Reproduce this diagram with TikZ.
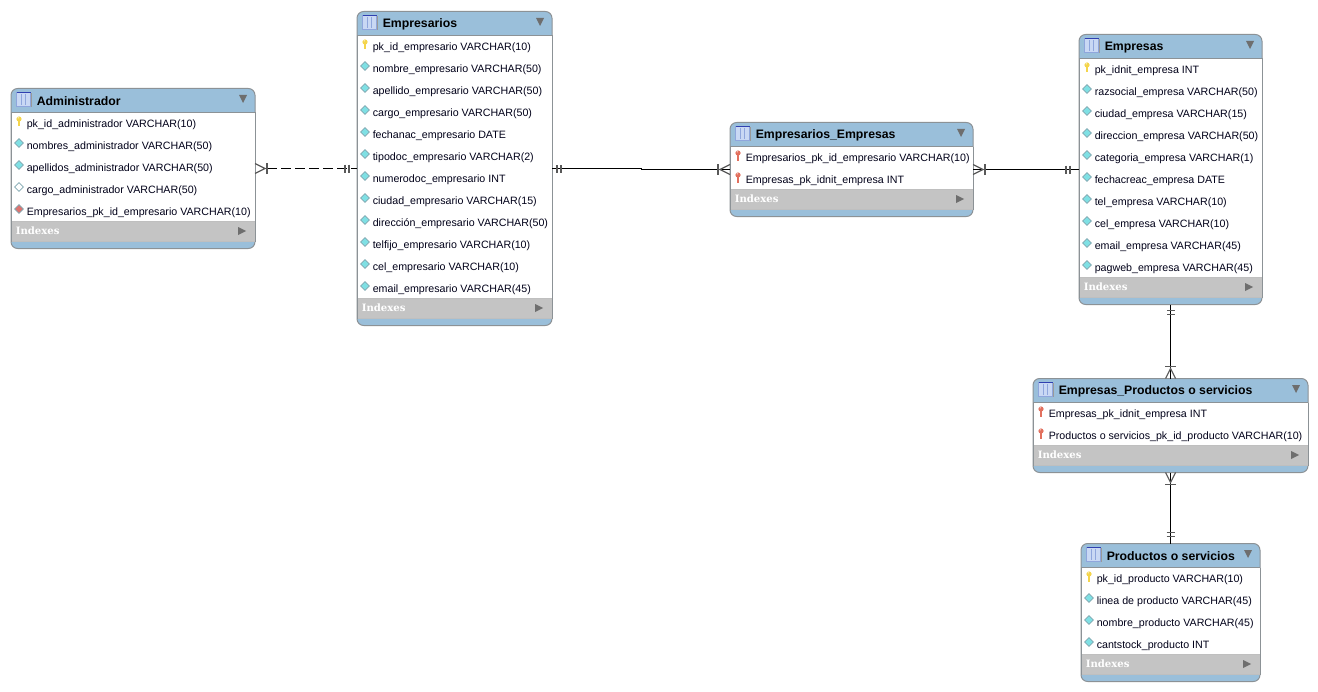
\documentclass[tikz,border=0pt]{standalone}
\usepackage{fontspec}
\setmainfont{Liberation Sans}
\newfontfamily\idxfont{DejaVu Serif}
\usetikzlibrary{calc}
\definecolor{hdrblue}{HTML}{9ABFDA}
\definecolor{bandgray}{HTML}{C4C4C4}
\definecolor{edgegray}{HTML}{8C9296}
\definecolor{tri}{HTML}{6E6E6E}
\definecolor{pkyellow}{HTML}{F4D54C}
\definecolor{fkred}{HTML}{E2705E}
\definecolor{dcyan}{HTML}{7FE0E4}
\definecolor{dred}{HTML}{DC7470}
\definecolor{dedge}{HTML}{7FA6B0}
\definecolor{iconfill}{HTML}{C9D8F4}
\definecolor{iconcol}{HTML}{8FA6DC}
\definecolor{iconbar}{HTML}{3040B0}
\tikzset{
  x=0.75pt,y=-0.75pt,
  tablebox/.style={draw=edgegray,line width=0.75pt,fill=hdrblue,rounded corners=5pt,inner sep=0pt,outer sep=0pt},
  rowtext/.style={anchor=west,inner sep=0pt,font=\fontsize{8pt}{10pt}\selectfont,text=black!90!blue},
  titletext/.style={anchor=west,inner sep=0pt,font=\fontsize{9.2pt}{11pt}\selectfont\bfseries,text=black},
  idxtext/.style={anchor=west,inner sep=0pt,font=\fontsize{7.6pt}{9pt}\idxfont\bfseries,text=white},
  rel/.style={line width=0.75pt,black},
  barmark/.style={line width=0.85pt,black!65},
}
\newcommand{\keyicon}[3]{%
  \fill[#3] (#1,#2-4) circle[radius=2.6];
  \fill[#3] (#1-1.2,#2-4) rectangle (#1+1.2,#2+3.5);
  \fill[white,opacity=.55] (#1-.8,#2-5.2) circle[radius=.9];
}
\newcommand{\diaicon}[3]{%
  \filldraw[fill=#3,draw=dedge,line width=.5pt] (#1-4.3,#2-2) -- (#1,#2-6.3) -- (#1+4.3,#2-2) -- (#1,#2+2.3) -- cycle;
}
\newcommand{\rowicon}[3]{%
  \ifnum#3=1 \keyicon{#1}{#2}{pkyellow}\fi
  \ifnum#3=2 \keyicon{#1}{#2}{fkred}\fi
  \ifnum#3=3 \diaicon{#1}{#2}{dcyan}\fi
  \ifnum#3=4 \diaicon{#1}{#2}{white}\fi
  \ifnum#3=5 \diaicon{#1}{#2}{dred}\fi
}
% name, left, top, width, title, number of rows, rows
\newcommand{\ertable}[7]{%
  \pgfmathsetmacro{\tabh}{50+22*#6}
  \pgfmathsetmacro{\tabr}{#2+#4}
  \pgfmathsetmacro{\rowtop}{#3+24}
  \pgfmathsetmacro{\bandtop}{#3+23+22*#6}
  \pgfmathsetmacro{\bandbot}{\bandtop+20}
  \node[tablebox,minimum width=#4*0.75pt,minimum height=\tabh*0.75pt] (#1) at (#2+#4/2,#3+\tabh/2) {};
  \fill[white] (#2,\rowtop) rectangle (\tabr,\bandtop);
  \fill[bandgray] (#2,\bandtop) rectangle (\tabr,\bandbot);
  \draw[edgegray,line width=.75pt] (#2,\rowtop) -- (\tabr,\rowtop);
  \draw[black!25,line width=.75pt] (#2,\bandtop) -- (\tabr,\bandtop) (#2,\bandbot) -- (\tabr,\bandbot);
  \draw[edgegray,line width=.75pt] (#2,\rowtop) -- (#2,\bandbot) (\tabr,\rowtop) -- (\tabr,\bandbot);
  % table icon
  \fill[black!40] (#2+6.5,#3+4.5) rectangle (#2+20.5,#3+18.5);
  \filldraw[fill=iconfill,draw=iconcol,line width=.5pt] (#2+5.5,#3+3.5) rectangle (#2+19.5,#3+17.5);
  \draw[iconbar,line width=.9pt] (#2+5.5,#3+4) -- (#2+19.5,#3+4);
  \draw[iconcol,line width=.4pt] (#2+10,#3+5.5) -- (#2+10,#3+16.5) (#2+14.5,#3+5.5) -- (#2+14.5,#3+16.5);
  \node[titletext] (#1-title) at (#2+25.5,#3+13) {#5};
  \fill[tri] (#2+#4-16,#3+6.5) -- (#2+#4-8,#3+6.5) -- (#2+#4-12,#3+14.5) -- cycle;
  \foreach \kind/\txt [count=\i] in {#7}{
    \pgfmathsetmacro{\rowy}{#3+12.5+22*\i}
    \rowicon{#2+8}{\rowy}{\kind}
    \node[rowtext] (#1-row\i) at (#2+15.5,\rowy+2) {\txt};
  }
  \node[idxtext] (#1-idx) at (#2+4.5,\bandtop+9.5) {Indexes};
  \fill[tri] (#2+#4-17,\bandtop+5.5) -- (#2+#4-9,\bandtop+9.5) -- (#2+#4-17,\bandtop+13.5) -- cycle;
}
% crow's foot at a table side: anchor, direction x, direction y
\newcommand{\crowfoot}[3]{%
  \draw[barmark] ([shift={(#3*5,#2*5)}]#1) -- ([shift={(#2*10,#3*10)}]#1) -- ([shift={(-#3*5,-#2*5)}]#1);
  \draw[barmark] ([shift={(#2*12+#3*5.5,#3*12+#2*5.5)}]#1) -- ([shift={(#2*12-#3*5.5,#3*12-#2*5.5)}]#1);
}
% double bar: anchor, direction x, direction y, near distance, far distance
\newcommand{\onebars}[5]{%
  \foreach \d in {#4,#5}{
    \draw[barmark] ([shift={(#2*\d+#3*4,#3*\d+#2*4)}]#1) -- ([shift={(#2*\d-#3*4,#3*\d-#2*4)}]#1);
  }
}
\begin{document}
\begin{tikzpicture}
\useasboundingbox (0,0) rectangle (1318,692);
\fill[white] (0,0) rectangle (1318,692);
\ertable{admin}{11}{88.5}{244}{Administrador}{5}{
  1/pk\_id\_administrador VARCHAR(10),
  3/nombres\_administrador VARCHAR(50),
  3/apellidos\_administrador VARCHAR(50),
  4/cargo\_administrador VARCHAR(50),
  5/Empresarios\_pk\_id\_empresario VARCHAR(10)}
\ertable{empresarios}{357}{11.5}{195}{Empresarios}{12}{
  1/pk\_id\_empresario VARCHAR(10),
  3/nombre\_empresario VARCHAR(50),
  3/apellido\_empresario VARCHAR(50),
  3/cargo\_empresario VARCHAR(50),
  3/fechanac\_empresario DATE,
  3/tipodoc\_empresario VARCHAR(2),
  3/numerodoc\_empresario INT,
  3/ciudad\_empresario VARCHAR(15),
  3/dirección\_empresario VARCHAR(50),
  3/telfijo\_empresario VARCHAR(10),
  3/cel\_empresario VARCHAR(10),
  3/email\_empresario VARCHAR(45)}
\ertable{ee}{730}{122.5}{243}{Empresarios\_Empresas}{2}{
  2/Empresarios\_pk\_id\_empresario VARCHAR(10),
  2/Empresas\_pk\_idnit\_empresa INT}
\ertable{empresas}{1079}{34.5}{183}{Empresas}{10}{
  1/pk\_idnit\_empresa INT,
  3/razsocial\_empresa VARCHAR(50),
  3/ciudad\_empresa VARCHAR(15),
  3/direccion\_empresa VARCHAR(50),
  3/categoria\_empresa VARCHAR(1),
  3/fechacreac\_empresa DATE,
  3/tel\_empresa VARCHAR(10),
  3/cel\_empresa VARCHAR(10),
  3/email\_empresa VARCHAR(45),
  3/pagweb\_empresa VARCHAR(45)}
\ertable{ep}{1033}{378.5}{275}{Empresas\_Productos o servicios}{2}{
  2/Empresas\_pk\_idnit\_empresa INT,
  2/Productos o servicios\_pk\_id\_producto VARCHAR(10)}
\ertable{prod}{1081}{543.5}{179}{Productos o servicios}{4}{
  1/pk\_id\_producto VARCHAR(10),
  3/linea de producto VARCHAR(45),
  3/nombre\_producto VARCHAR(45),
  3/cantstock\_producto INT}
% connectors
\draw[rel,dash pattern=on 7.5pt off 3pt] ([shift={(12,0)}]admin.east) -- (empresarios.west);
\draw[rel] (empresarios.east) -- ++(89,0) |- (ee.west);
\draw[rel] (ee.east) -- (empresas.west);
\draw[rel] (empresas.south) -- (ep.north);
\draw[rel] (ep.south) -- (prod.north);
% many ends
\crowfoot{admin.east}{1}{0}
\crowfoot{ee.west}{-1}{0}
\crowfoot{ee.east}{1}{0}
\crowfoot{ep.north}{0}{-1}
\crowfoot{ep.south}{0}{1}
% one ends
\onebars{empresarios.west}{-1}{0}{8}{12}
\onebars{empresarios.east}{1}{0}{5}{9}
\onebars{empresas.west}{-1}{0}{9}{13}
\onebars{empresas.south}{0}{1}{6}{10}
\onebars{prod.north}{0}{-1}{7}{11}
\end{tikzpicture}
\end{document}
